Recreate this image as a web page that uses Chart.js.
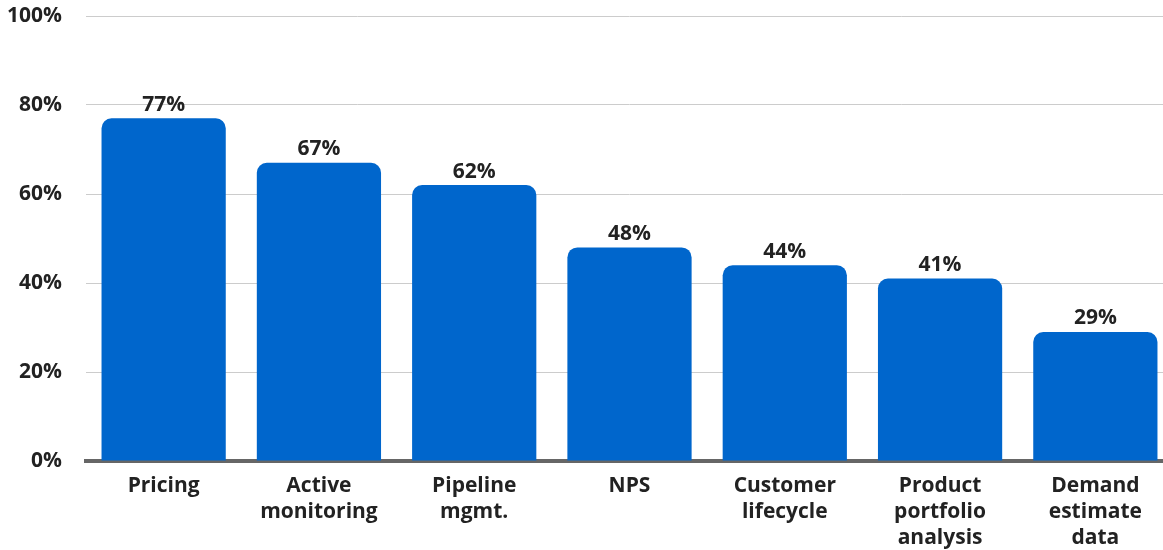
<!DOCTYPE html>
<html><head><meta charset="utf-8">
<script src="https://cdn.jsdelivr.net/npm/chart.js@4.4.1/dist/chart.umd.min.js"></script>
<style>
html,body{margin:0;padding:0;background:#fff;overflow:hidden;width:1163px;height:550px;}
#wrap{position:absolute;left:0;top:0;width:1173px;height:550px;}
</style></head><body>
<div id="wrap"><canvas id="c"></canvas></div>
<script>
const categories = [["Pricing"],["Active","monitoring"],["Pipeline","mgmt."],["NPS"],["Customer","lifecycle"],["Product","portfolio","analysis"],["Demand","estimate","data"]];
const values = [77, 67, 62, 48, 44, 41, 29];
const yTicks = [0, 20, 40, 60, 80, 100];

const labelPlugin = {
  id: 'valueLabels',
  afterDatasetsDraw(chart) {
    const ctx = chart.ctx;
    const meta = chart.getDatasetMeta(0);
    ctx.save();
    ctx.font = 'bold 21px "Open Sans"';
    ctx.fillStyle = '#222';
    ctx.textAlign = 'center';
    ctx.textBaseline = 'bottom';
    meta.data.forEach((bar, i) => {
      ctx.fillText(values[i] + '%', bar.x, bar.y - 3);
    });
    ctx.restore();
  }
};

new Chart(document.getElementById('c'), {
  type: 'bar',
  data: {
    labels: categories,
    datasets: [{
      data: values,
      backgroundColor: '#0066cc',
      borderRadius: 10,
      borderSkipped: 'start',
      categoryPercentage: 1,
      barPercentage: 0.8
    }]
  },
  options: {
    responsive: true,
    maintainAspectRatio: false,
    animation: false,
    layout: { padding: { top: 16, right: 0, left: 0, bottom: 0 } },
    plugins: { legend: { display: false }, tooltip: { enabled: false } },
    scales: {
      x: {
        grid: { display: false },
        border: { display: true, color: '#666', width: 4 },
        afterFit(scale) { scale.height = 89; scale.paddingLeft = 0; scale.paddingRight = 0; },
        ticks: {
          color: '#222',
          font: { family: '"Open Sans"', weight: 'bold', size: 21, lineHeight: 1.24 },
          padding: 4,
          maxRotation: 0,
          autoSkip: false
        }
      },
      y: {
        min: 0, max: 100,
        afterBuildTicks(scale) { scale.ticks = yTicks.map(v => ({ value: v })); },
        afterFit(scale) { scale.width = 86; scale.paddingTop = 0; scale.paddingBottom = 0; },
        grid: { color: '#cccccc', lineWidth: 1, drawTicks: false },
        border: { display: false },
        ticks: {
          color: '#222',
          font: { family: '"Open Sans"', weight: 'bold', size: 21 },
          padding: 24,
          callback: v => v + '%'
        }
      }
    }
  },
  plugins: [labelPlugin]
});
</script>
</body></html>
